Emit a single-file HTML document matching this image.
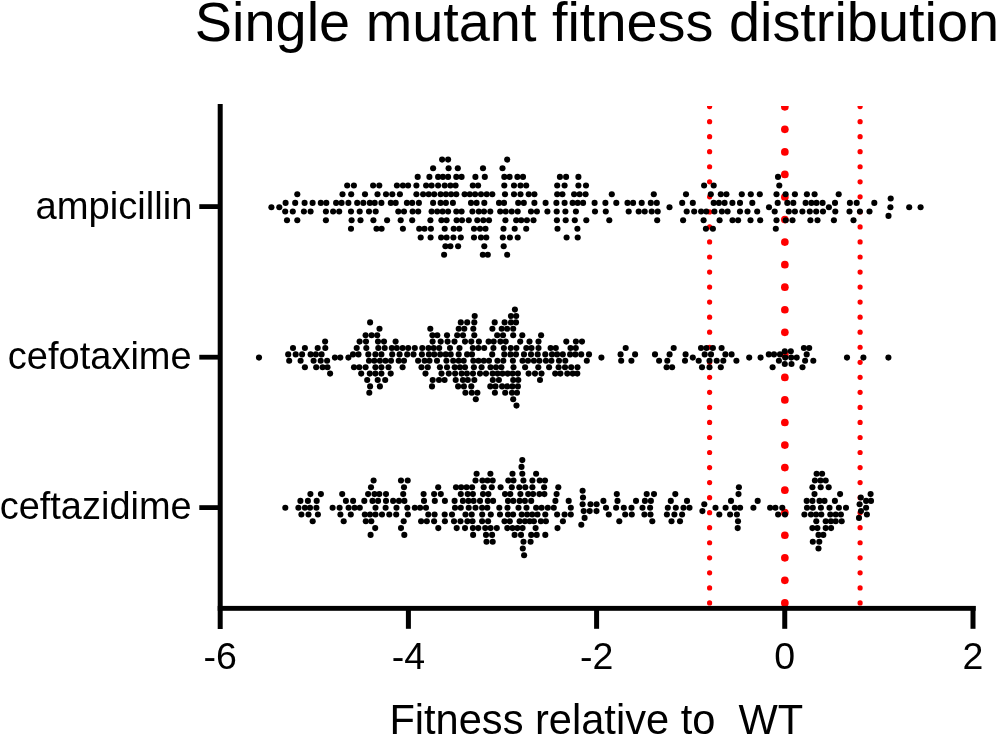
<!DOCTYPE html><html><head><meta charset="utf-8"><style>html,body{margin:0;padding:0;background:#fff;}svg{display:block;}text{font-family:"Liberation Sans",sans-serif;fill:#000;}</style></head><body>
<svg width="997" height="735" viewBox="0 0 997 735">
<rect width="997" height="735" fill="#fff"/>
<defs><clipPath id="c"><rect x="0" y="106" width="997" height="600"/></clipPath></defs>
<g fill="#f00" clip-path="url(#c)"><circle cx="709.6" cy="106.60" r="2.6"/><circle cx="709.6" cy="121.64" r="2.6"/><circle cx="709.6" cy="136.68" r="2.6"/><circle cx="709.6" cy="151.72" r="2.6"/><circle cx="709.6" cy="166.76" r="2.6"/><circle cx="709.6" cy="181.80" r="2.6"/><circle cx="709.6" cy="196.84" r="2.6"/><circle cx="709.6" cy="211.88" r="2.6"/><circle cx="709.6" cy="226.92" r="2.6"/><circle cx="709.6" cy="241.96" r="2.6"/><circle cx="709.6" cy="257.00" r="2.6"/><circle cx="709.6" cy="272.04" r="2.6"/><circle cx="709.6" cy="287.08" r="2.6"/><circle cx="709.6" cy="302.12" r="2.6"/><circle cx="709.6" cy="317.16" r="2.6"/><circle cx="709.6" cy="332.20" r="2.6"/><circle cx="709.6" cy="347.24" r="2.6"/><circle cx="709.6" cy="362.28" r="2.6"/><circle cx="709.6" cy="377.32" r="2.6"/><circle cx="709.6" cy="392.36" r="2.6"/><circle cx="709.6" cy="407.40" r="2.6"/><circle cx="709.6" cy="422.44" r="2.6"/><circle cx="709.6" cy="437.48" r="2.6"/><circle cx="709.6" cy="452.52" r="2.6"/><circle cx="709.6" cy="467.56" r="2.6"/><circle cx="709.6" cy="482.60" r="2.6"/><circle cx="709.6" cy="497.64" r="2.6"/><circle cx="709.6" cy="512.68" r="2.6"/><circle cx="709.6" cy="527.72" r="2.6"/><circle cx="709.6" cy="542.76" r="2.6"/><circle cx="709.6" cy="557.80" r="2.6"/><circle cx="709.6" cy="572.84" r="2.6"/><circle cx="709.6" cy="587.88" r="2.6"/><circle cx="709.6" cy="602.92" r="2.6"/><circle cx="860.1" cy="106.60" r="2.6"/><circle cx="860.1" cy="121.64" r="2.6"/><circle cx="860.1" cy="136.68" r="2.6"/><circle cx="860.1" cy="151.72" r="2.6"/><circle cx="860.1" cy="166.76" r="2.6"/><circle cx="860.1" cy="181.80" r="2.6"/><circle cx="860.1" cy="196.84" r="2.6"/><circle cx="860.1" cy="211.88" r="2.6"/><circle cx="860.1" cy="226.92" r="2.6"/><circle cx="860.1" cy="241.96" r="2.6"/><circle cx="860.1" cy="257.00" r="2.6"/><circle cx="860.1" cy="272.04" r="2.6"/><circle cx="860.1" cy="287.08" r="2.6"/><circle cx="860.1" cy="302.12" r="2.6"/><circle cx="860.1" cy="317.16" r="2.6"/><circle cx="860.1" cy="332.20" r="2.6"/><circle cx="860.1" cy="347.24" r="2.6"/><circle cx="860.1" cy="362.28" r="2.6"/><circle cx="860.1" cy="377.32" r="2.6"/><circle cx="860.1" cy="392.36" r="2.6"/><circle cx="860.1" cy="407.40" r="2.6"/><circle cx="860.1" cy="422.44" r="2.6"/><circle cx="860.1" cy="437.48" r="2.6"/><circle cx="860.1" cy="452.52" r="2.6"/><circle cx="860.1" cy="467.56" r="2.6"/><circle cx="860.1" cy="482.60" r="2.6"/><circle cx="860.1" cy="497.64" r="2.6"/><circle cx="860.1" cy="512.68" r="2.6"/><circle cx="860.1" cy="527.72" r="2.6"/><circle cx="860.1" cy="542.76" r="2.6"/><circle cx="860.1" cy="557.80" r="2.6"/><circle cx="860.1" cy="572.84" r="2.6"/><circle cx="860.1" cy="587.88" r="2.6"/><circle cx="860.1" cy="602.92" r="2.6"/><circle cx="784.85" cy="106.80" r="3.85"/><circle cx="784.85" cy="129.35" r="3.85"/><circle cx="784.85" cy="151.90" r="3.85"/><circle cx="784.85" cy="174.45" r="3.85"/><circle cx="784.85" cy="197.00" r="3.85"/><circle cx="784.85" cy="219.55" r="3.85"/><circle cx="784.85" cy="242.10" r="3.85"/><circle cx="784.85" cy="264.65" r="3.85"/><circle cx="784.85" cy="287.20" r="3.85"/><circle cx="784.85" cy="309.75" r="3.85"/><circle cx="784.85" cy="332.30" r="3.85"/><circle cx="784.85" cy="354.85" r="3.85"/><circle cx="784.85" cy="377.40" r="3.85"/><circle cx="784.85" cy="399.95" r="3.85"/><circle cx="784.85" cy="422.50" r="3.85"/><circle cx="784.85" cy="445.05" r="3.85"/><circle cx="784.85" cy="467.60" r="3.85"/><circle cx="784.85" cy="490.15" r="3.85"/><circle cx="784.85" cy="512.70" r="3.85"/><circle cx="784.85" cy="535.25" r="3.85"/><circle cx="784.85" cy="557.80" r="3.85"/><circle cx="784.85" cy="580.35" r="3.85"/><circle cx="784.85" cy="602.90" r="3.85"/></g>
<g fill="#000"><rect x="217.7" y="104" width="5" height="525"/><rect x="217.7" y="605.9" width="758" height="4.9"/><rect x="405.90" y="606" width="5" height="22.8"/><rect x="594.10" y="606" width="5" height="22.8"/><rect x="782.25" y="606" width="5" height="22.8"/><rect x="970.50" y="606" width="5" height="22.8"/><rect x="199.3" y="204.20" width="20" height="4.8"/><rect x="199.3" y="354.80" width="20" height="4.8"/><rect x="199.3" y="505.20" width="20" height="4.8"/></g>
<g fill="#000"><circle cx="442.1" cy="159.6" r="3.05"/><circle cx="448.1" cy="159.6" r="3.05"/><circle cx="507.2" cy="159.6" r="3.05"/><circle cx="433.1" cy="168.2" r="3.05"/><circle cx="448.6" cy="168.2" r="3.05"/><circle cx="457.8" cy="168.2" r="3.05"/><circle cx="483.0" cy="168.2" r="3.05"/><circle cx="502.5" cy="168.2" r="3.05"/><circle cx="417.7" cy="176.9" r="3.05"/><circle cx="429.4" cy="176.9" r="3.05"/><circle cx="438.1" cy="176.9" r="3.05"/><circle cx="442.9" cy="176.9" r="3.05"/><circle cx="448.1" cy="176.9" r="3.05"/><circle cx="456.3" cy="176.9" r="3.05"/><circle cx="461.6" cy="176.9" r="3.05"/><circle cx="475.4" cy="176.9" r="3.05"/><circle cx="484.8" cy="176.9" r="3.05"/><circle cx="504.3" cy="176.9" r="3.05"/><circle cx="509.6" cy="176.9" r="3.05"/><circle cx="517.4" cy="176.9" r="3.05"/><circle cx="523.0" cy="176.9" r="3.05"/><circle cx="559.9" cy="176.9" r="3.05"/><circle cx="566.1" cy="176.9" r="3.05"/><circle cx="578.4" cy="176.9" r="3.05"/><circle cx="778.0" cy="176.9" r="3.05"/><circle cx="347.2" cy="185.5" r="3.05"/><circle cx="353.9" cy="185.5" r="3.05"/><circle cx="373.1" cy="185.5" r="3.05"/><circle cx="379.3" cy="185.5" r="3.05"/><circle cx="396.9" cy="185.5" r="3.05"/><circle cx="402.9" cy="185.5" r="3.05"/><circle cx="408.1" cy="185.5" r="3.05"/><circle cx="416.4" cy="185.5" r="3.05"/><circle cx="426.1" cy="185.5" r="3.05"/><circle cx="431.6" cy="185.5" r="3.05"/><circle cx="438.1" cy="185.5" r="3.05"/><circle cx="444.7" cy="185.5" r="3.05"/><circle cx="450.4" cy="185.5" r="3.05"/><circle cx="455.6" cy="185.5" r="3.05"/><circle cx="472.8" cy="185.5" r="3.05"/><circle cx="478.1" cy="185.5" r="3.05"/><circle cx="504.3" cy="185.5" r="3.05"/><circle cx="514.0" cy="185.5" r="3.05"/><circle cx="520.5" cy="185.5" r="3.05"/><circle cx="526.2" cy="185.5" r="3.05"/><circle cx="557.2" cy="185.5" r="3.05"/><circle cx="564.6" cy="185.5" r="3.05"/><circle cx="578.4" cy="185.5" r="3.05"/><circle cx="586.0" cy="185.5" r="3.05"/><circle cx="704.1" cy="185.5" r="3.05"/><circle cx="713.7" cy="185.5" r="3.05"/><circle cx="779.3" cy="185.5" r="3.05"/><circle cx="297.3" cy="194.2" r="3.05"/><circle cx="342.5" cy="194.2" r="3.05"/><circle cx="351.2" cy="194.2" r="3.05"/><circle cx="365.0" cy="194.2" r="3.05"/><circle cx="377.5" cy="194.2" r="3.05"/><circle cx="386.0" cy="194.2" r="3.05"/><circle cx="392.3" cy="194.2" r="3.05"/><circle cx="399.9" cy="194.2" r="3.05"/><circle cx="416.4" cy="194.2" r="3.05"/><circle cx="423.1" cy="194.2" r="3.05"/><circle cx="428.7" cy="194.2" r="3.05"/><circle cx="434.2" cy="194.2" r="3.05"/><circle cx="440.6" cy="194.2" r="3.05"/><circle cx="445.9" cy="194.2" r="3.05"/><circle cx="451.1" cy="194.2" r="3.05"/><circle cx="456.3" cy="194.2" r="3.05"/><circle cx="464.6" cy="194.2" r="3.05"/><circle cx="469.8" cy="194.2" r="3.05"/><circle cx="475.1" cy="194.2" r="3.05"/><circle cx="481.0" cy="194.2" r="3.05"/><circle cx="486.7" cy="194.2" r="3.05"/><circle cx="492.3" cy="194.2" r="3.05"/><circle cx="505.0" cy="194.2" r="3.05"/><circle cx="514.0" cy="194.2" r="3.05"/><circle cx="520.5" cy="194.2" r="3.05"/><circle cx="528.7" cy="194.2" r="3.05"/><circle cx="534.4" cy="194.2" r="3.05"/><circle cx="557.2" cy="194.2" r="3.05"/><circle cx="562.4" cy="194.2" r="3.05"/><circle cx="574.1" cy="194.2" r="3.05"/><circle cx="579.6" cy="194.2" r="3.05"/><circle cx="585.6" cy="194.2" r="3.05"/><circle cx="611.8" cy="194.2" r="3.05"/><circle cx="653.8" cy="194.2" r="3.05"/><circle cx="686.0" cy="194.2" r="3.05"/><circle cx="710.8" cy="194.2" r="3.05"/><circle cx="720.8" cy="194.2" r="3.05"/><circle cx="726.4" cy="194.2" r="3.05"/><circle cx="741.8" cy="194.2" r="3.05"/><circle cx="750.8" cy="194.2" r="3.05"/><circle cx="759.8" cy="194.2" r="3.05"/><circle cx="776.5" cy="194.2" r="3.05"/><circle cx="785.6" cy="194.2" r="3.05"/><circle cx="794.9" cy="194.2" r="3.05"/><circle cx="806.9" cy="194.2" r="3.05"/><circle cx="814.6" cy="194.2" r="3.05"/><circle cx="838.7" cy="194.2" r="3.05"/><circle cx="890.7" cy="198.5" r="3.05"/><circle cx="285.6" cy="202.9" r="3.05"/><circle cx="295.2" cy="202.9" r="3.05"/><circle cx="304.6" cy="202.9" r="3.05"/><circle cx="312.6" cy="202.9" r="3.05"/><circle cx="320.8" cy="202.9" r="3.05"/><circle cx="326.3" cy="202.9" r="3.05"/><circle cx="336.1" cy="202.9" r="3.05"/><circle cx="341.6" cy="202.9" r="3.05"/><circle cx="348.4" cy="202.9" r="3.05"/><circle cx="357.2" cy="202.9" r="3.05"/><circle cx="363.3" cy="202.9" r="3.05"/><circle cx="369.8" cy="202.9" r="3.05"/><circle cx="374.7" cy="202.9" r="3.05"/><circle cx="381.4" cy="202.9" r="3.05"/><circle cx="390.8" cy="202.9" r="3.05"/><circle cx="395.7" cy="202.9" r="3.05"/><circle cx="406.9" cy="202.9" r="3.05"/><circle cx="412.2" cy="202.9" r="3.05"/><circle cx="418.9" cy="202.9" r="3.05"/><circle cx="433.1" cy="202.9" r="3.05"/><circle cx="440.6" cy="202.9" r="3.05"/><circle cx="445.9" cy="202.9" r="3.05"/><circle cx="452.9" cy="202.9" r="3.05"/><circle cx="471.0" cy="202.9" r="3.05"/><circle cx="476.6" cy="202.9" r="3.05"/><circle cx="484.3" cy="202.9" r="3.05"/><circle cx="499.0" cy="202.9" r="3.05"/><circle cx="504.0" cy="202.9" r="3.05"/><circle cx="518.2" cy="202.9" r="3.05"/><circle cx="523.8" cy="202.9" r="3.05"/><circle cx="534.4" cy="202.9" r="3.05"/><circle cx="545.6" cy="202.9" r="3.05"/><circle cx="556.4" cy="202.9" r="3.05"/><circle cx="564.6" cy="202.9" r="3.05"/><circle cx="572.6" cy="202.9" r="3.05"/><circle cx="577.7" cy="202.9" r="3.05"/><circle cx="583.1" cy="202.9" r="3.05"/><circle cx="594.6" cy="202.9" r="3.05"/><circle cx="605.4" cy="202.9" r="3.05"/><circle cx="616.3" cy="202.9" r="3.05"/><circle cx="627.5" cy="202.9" r="3.05"/><circle cx="633.1" cy="202.9" r="3.05"/><circle cx="641.7" cy="202.9" r="3.05"/><circle cx="650.8" cy="202.9" r="3.05"/><circle cx="656.8" cy="202.9" r="3.05"/><circle cx="682.2" cy="202.9" r="3.05"/><circle cx="692.8" cy="202.9" r="3.05"/><circle cx="713.7" cy="202.9" r="3.05"/><circle cx="718.9" cy="202.9" r="3.05"/><circle cx="724.6" cy="202.9" r="3.05"/><circle cx="732.4" cy="202.9" r="3.05"/><circle cx="740.0" cy="202.9" r="3.05"/><circle cx="752.3" cy="202.9" r="3.05"/><circle cx="777.7" cy="202.9" r="3.05"/><circle cx="787.3" cy="202.9" r="3.05"/><circle cx="793.3" cy="202.9" r="3.05"/><circle cx="805.6" cy="202.9" r="3.05"/><circle cx="811.4" cy="202.9" r="3.05"/><circle cx="816.5" cy="202.9" r="3.05"/><circle cx="822.6" cy="202.9" r="3.05"/><circle cx="835.0" cy="202.9" r="3.05"/><circle cx="849.9" cy="202.9" r="3.05"/><circle cx="856.7" cy="202.9" r="3.05"/><circle cx="874.3" cy="202.9" r="3.05"/><circle cx="271.4" cy="207.2" r="3.05"/><circle cx="279.3" cy="207.2" r="3.05"/><circle cx="669.5" cy="207.2" r="3.05"/><circle cx="769.0" cy="207.2" r="3.05"/><circle cx="828.9" cy="207.2" r="3.05"/><circle cx="890.4" cy="207.2" r="3.05"/><circle cx="909.2" cy="207.2" r="3.05"/><circle cx="920.6" cy="207.2" r="3.05"/><circle cx="285.2" cy="211.5" r="3.05"/><circle cx="292.8" cy="211.5" r="3.05"/><circle cx="303.9" cy="211.5" r="3.05"/><circle cx="310.6" cy="211.5" r="3.05"/><circle cx="325.9" cy="211.5" r="3.05"/><circle cx="333.1" cy="211.5" r="3.05"/><circle cx="339.2" cy="211.5" r="3.05"/><circle cx="351.0" cy="211.5" r="3.05"/><circle cx="359.7" cy="211.5" r="3.05"/><circle cx="369.0" cy="211.5" r="3.05"/><circle cx="375.7" cy="211.5" r="3.05"/><circle cx="398.3" cy="211.5" r="3.05"/><circle cx="404.0" cy="211.5" r="3.05"/><circle cx="412.6" cy="211.5" r="3.05"/><circle cx="418.2" cy="211.5" r="3.05"/><circle cx="431.6" cy="211.5" r="3.05"/><circle cx="437.2" cy="211.5" r="3.05"/><circle cx="442.6" cy="211.5" r="3.05"/><circle cx="448.1" cy="211.5" r="3.05"/><circle cx="456.3" cy="211.5" r="3.05"/><circle cx="461.6" cy="211.5" r="3.05"/><circle cx="472.4" cy="211.5" r="3.05"/><circle cx="478.8" cy="211.5" r="3.05"/><circle cx="484.0" cy="211.5" r="3.05"/><circle cx="490.3" cy="211.5" r="3.05"/><circle cx="500.2" cy="211.5" r="3.05"/><circle cx="505.7" cy="211.5" r="3.05"/><circle cx="511.7" cy="211.5" r="3.05"/><circle cx="517.7" cy="211.5" r="3.05"/><circle cx="531.0" cy="211.5" r="3.05"/><circle cx="536.9" cy="211.5" r="3.05"/><circle cx="547.4" cy="211.5" r="3.05"/><circle cx="556.7" cy="211.5" r="3.05"/><circle cx="565.4" cy="211.5" r="3.05"/><circle cx="575.9" cy="211.5" r="3.05"/><circle cx="595.0" cy="211.5" r="3.05"/><circle cx="605.8" cy="211.5" r="3.05"/><circle cx="628.7" cy="211.5" r="3.05"/><circle cx="638.7" cy="211.5" r="3.05"/><circle cx="644.7" cy="211.5" r="3.05"/><circle cx="651.7" cy="211.5" r="3.05"/><circle cx="657.7" cy="211.5" r="3.05"/><circle cx="686.7" cy="211.5" r="3.05"/><circle cx="694.2" cy="211.5" r="3.05"/><circle cx="701.1" cy="211.5" r="3.05"/><circle cx="706.3" cy="211.5" r="3.05"/><circle cx="714.4" cy="211.5" r="3.05"/><circle cx="721.9" cy="211.5" r="3.05"/><circle cx="727.6" cy="211.5" r="3.05"/><circle cx="740.0" cy="211.5" r="3.05"/><circle cx="747.5" cy="211.5" r="3.05"/><circle cx="757.2" cy="211.5" r="3.05"/><circle cx="774.7" cy="211.5" r="3.05"/><circle cx="788.8" cy="211.5" r="3.05"/><circle cx="794.9" cy="211.5" r="3.05"/><circle cx="802.4" cy="211.5" r="3.05"/><circle cx="809.8" cy="211.5" r="3.05"/><circle cx="816.2" cy="211.5" r="3.05"/><circle cx="823.0" cy="211.5" r="3.05"/><circle cx="835.3" cy="211.5" r="3.05"/><circle cx="849.5" cy="211.5" r="3.05"/><circle cx="859.9" cy="211.5" r="3.05"/><circle cx="869.5" cy="211.5" r="3.05"/><circle cx="888.5" cy="215.9" r="3.05"/><circle cx="287.0" cy="220.2" r="3.05"/><circle cx="297.3" cy="220.2" r="3.05"/><circle cx="325.9" cy="220.2" r="3.05"/><circle cx="351.6" cy="220.2" r="3.05"/><circle cx="360.5" cy="220.2" r="3.05"/><circle cx="373.4" cy="220.2" r="3.05"/><circle cx="387.1" cy="220.2" r="3.05"/><circle cx="400.7" cy="220.2" r="3.05"/><circle cx="412.2" cy="220.2" r="3.05"/><circle cx="430.4" cy="220.2" r="3.05"/><circle cx="441.4" cy="220.2" r="3.05"/><circle cx="446.6" cy="220.2" r="3.05"/><circle cx="456.6" cy="220.2" r="3.05"/><circle cx="462.0" cy="220.2" r="3.05"/><circle cx="468.8" cy="220.2" r="3.05"/><circle cx="477.3" cy="220.2" r="3.05"/><circle cx="483.3" cy="220.2" r="3.05"/><circle cx="489.0" cy="220.2" r="3.05"/><circle cx="505.4" cy="220.2" r="3.05"/><circle cx="516.2" cy="220.2" r="3.05"/><circle cx="521.2" cy="220.2" r="3.05"/><circle cx="526.9" cy="220.2" r="3.05"/><circle cx="533.5" cy="220.2" r="3.05"/><circle cx="556.9" cy="220.2" r="3.05"/><circle cx="565.7" cy="220.2" r="3.05"/><circle cx="574.8" cy="220.2" r="3.05"/><circle cx="586.3" cy="220.2" r="3.05"/><circle cx="609.3" cy="220.2" r="3.05"/><circle cx="657.2" cy="220.2" r="3.05"/><circle cx="683.1" cy="220.2" r="3.05"/><circle cx="703.6" cy="220.2" r="3.05"/><circle cx="719.6" cy="220.2" r="3.05"/><circle cx="732.5" cy="220.2" r="3.05"/><circle cx="738.1" cy="220.2" r="3.05"/><circle cx="750.5" cy="220.2" r="3.05"/><circle cx="760.2" cy="220.2" r="3.05"/><circle cx="776.5" cy="220.2" r="3.05"/><circle cx="785.7" cy="220.2" r="3.05"/><circle cx="792.5" cy="220.2" r="3.05"/><circle cx="810.4" cy="220.2" r="3.05"/><circle cx="817.5" cy="220.2" r="3.05"/><circle cx="833.9" cy="220.2" r="3.05"/><circle cx="853.5" cy="220.2" r="3.05"/><circle cx="351.0" cy="228.8" r="3.05"/><circle cx="376.5" cy="228.8" r="3.05"/><circle cx="381.6" cy="228.8" r="3.05"/><circle cx="402.9" cy="228.8" r="3.05"/><circle cx="419.2" cy="228.8" r="3.05"/><circle cx="424.5" cy="228.8" r="3.05"/><circle cx="430.9" cy="228.8" r="3.05"/><circle cx="444.7" cy="228.8" r="3.05"/><circle cx="453.7" cy="228.8" r="3.05"/><circle cx="459.3" cy="228.8" r="3.05"/><circle cx="474.0" cy="228.8" r="3.05"/><circle cx="480.0" cy="228.8" r="3.05"/><circle cx="485.5" cy="228.8" r="3.05"/><circle cx="503.5" cy="228.8" r="3.05"/><circle cx="514.7" cy="228.8" r="3.05"/><circle cx="526.2" cy="228.8" r="3.05"/><circle cx="557.5" cy="228.8" r="3.05"/><circle cx="577.4" cy="228.8" r="3.05"/><circle cx="705.9" cy="228.8" r="3.05"/><circle cx="712.9" cy="228.8" r="3.05"/><circle cx="775.8" cy="228.8" r="3.05"/><circle cx="420.7" cy="237.5" r="3.05"/><circle cx="430.6" cy="237.5" r="3.05"/><circle cx="441.1" cy="237.5" r="3.05"/><circle cx="446.6" cy="237.5" r="3.05"/><circle cx="453.4" cy="237.5" r="3.05"/><circle cx="460.8" cy="237.5" r="3.05"/><circle cx="474.0" cy="237.5" r="3.05"/><circle cx="481.0" cy="237.5" r="3.05"/><circle cx="486.3" cy="237.5" r="3.05"/><circle cx="502.8" cy="237.5" r="3.05"/><circle cx="509.9" cy="237.5" r="3.05"/><circle cx="517.7" cy="237.5" r="3.05"/><circle cx="566.6" cy="237.5" r="3.05"/><circle cx="577.7" cy="237.5" r="3.05"/><circle cx="445.4" cy="246.2" r="3.05"/><circle cx="450.4" cy="246.2" r="3.05"/><circle cx="458.1" cy="246.2" r="3.05"/><circle cx="484.3" cy="246.2" r="3.05"/><circle cx="503.7" cy="246.2" r="3.05"/><circle cx="444.1" cy="254.8" r="3.05"/><circle cx="482.8" cy="254.8" r="3.05"/><circle cx="487.8" cy="254.8" r="3.05"/><circle cx="507.2" cy="254.8" r="3.05"/><circle cx="514.9" cy="309.6" r="3.05"/><circle cx="474.7" cy="316.0" r="3.05"/><circle cx="510.9" cy="316.0" r="3.05"/><circle cx="516.2" cy="316.0" r="3.05"/><circle cx="370.1" cy="322.4" r="3.05"/><circle cx="460.8" cy="322.4" r="3.05"/><circle cx="467.2" cy="322.4" r="3.05"/><circle cx="474.3" cy="322.4" r="3.05"/><circle cx="494.7" cy="322.4" r="3.05"/><circle cx="504.6" cy="322.4" r="3.05"/><circle cx="510.9" cy="322.4" r="3.05"/><circle cx="516.0" cy="322.4" r="3.05"/><circle cx="379.5" cy="328.8" r="3.05"/><circle cx="430.3" cy="328.8" r="3.05"/><circle cx="458.7" cy="328.8" r="3.05"/><circle cx="464.3" cy="328.8" r="3.05"/><circle cx="473.3" cy="328.8" r="3.05"/><circle cx="492.4" cy="328.8" r="3.05"/><circle cx="501.7" cy="328.8" r="3.05"/><circle cx="507.1" cy="328.8" r="3.05"/><circle cx="513.2" cy="328.8" r="3.05"/><circle cx="365.6" cy="335.2" r="3.05"/><circle cx="371.6" cy="335.2" r="3.05"/><circle cx="377.2" cy="335.2" r="3.05"/><circle cx="432.4" cy="335.2" r="3.05"/><circle cx="437.3" cy="335.2" r="3.05"/><circle cx="447.0" cy="335.2" r="3.05"/><circle cx="457.2" cy="335.2" r="3.05"/><circle cx="463.0" cy="335.2" r="3.05"/><circle cx="474.3" cy="335.2" r="3.05"/><circle cx="497.2" cy="335.2" r="3.05"/><circle cx="503.0" cy="335.2" r="3.05"/><circle cx="513.2" cy="335.2" r="3.05"/><circle cx="522.3" cy="335.2" r="3.05"/><circle cx="541.1" cy="335.2" r="3.05"/><circle cx="325.1" cy="341.6" r="3.05"/><circle cx="359.6" cy="341.6" r="3.05"/><circle cx="366.0" cy="341.6" r="3.05"/><circle cx="378.0" cy="341.6" r="3.05"/><circle cx="384.0" cy="341.6" r="3.05"/><circle cx="395.6" cy="341.6" r="3.05"/><circle cx="432.6" cy="341.6" r="3.05"/><circle cx="440.7" cy="341.6" r="3.05"/><circle cx="447.6" cy="341.6" r="3.05"/><circle cx="454.5" cy="341.6" r="3.05"/><circle cx="465.0" cy="341.6" r="3.05"/><circle cx="471.3" cy="341.6" r="3.05"/><circle cx="478.9" cy="341.6" r="3.05"/><circle cx="488.6" cy="341.6" r="3.05"/><circle cx="493.7" cy="341.6" r="3.05"/><circle cx="500.4" cy="341.6" r="3.05"/><circle cx="505.7" cy="341.6" r="3.05"/><circle cx="520.2" cy="341.6" r="3.05"/><circle cx="529.5" cy="341.6" r="3.05"/><circle cx="538.5" cy="341.6" r="3.05"/><circle cx="566.3" cy="341.6" r="3.05"/><circle cx="575.9" cy="341.6" r="3.05"/><circle cx="582.0" cy="341.6" r="3.05"/><circle cx="293.0" cy="348.0" r="3.05"/><circle cx="304.9" cy="348.0" r="3.05"/><circle cx="317.7" cy="348.0" r="3.05"/><circle cx="325.3" cy="348.0" r="3.05"/><circle cx="356.7" cy="348.0" r="3.05"/><circle cx="366.3" cy="348.0" r="3.05"/><circle cx="378.3" cy="348.0" r="3.05"/><circle cx="384.7" cy="348.0" r="3.05"/><circle cx="391.8" cy="348.0" r="3.05"/><circle cx="396.8" cy="348.0" r="3.05"/><circle cx="402.6" cy="348.0" r="3.05"/><circle cx="408.2" cy="348.0" r="3.05"/><circle cx="414.8" cy="348.0" r="3.05"/><circle cx="422.3" cy="348.0" r="3.05"/><circle cx="428.5" cy="348.0" r="3.05"/><circle cx="433.7" cy="348.0" r="3.05"/><circle cx="439.2" cy="348.0" r="3.05"/><circle cx="450.0" cy="348.0" r="3.05"/><circle cx="459.5" cy="348.0" r="3.05"/><circle cx="472.8" cy="348.0" r="3.05"/><circle cx="478.4" cy="348.0" r="3.05"/><circle cx="484.2" cy="348.0" r="3.05"/><circle cx="493.4" cy="348.0" r="3.05"/><circle cx="503.9" cy="348.0" r="3.05"/><circle cx="510.7" cy="348.0" r="3.05"/><circle cx="516.4" cy="348.0" r="3.05"/><circle cx="526.3" cy="348.0" r="3.05"/><circle cx="531.5" cy="348.0" r="3.05"/><circle cx="538.5" cy="348.0" r="3.05"/><circle cx="550.6" cy="348.0" r="3.05"/><circle cx="555.8" cy="348.0" r="3.05"/><circle cx="570.5" cy="348.0" r="3.05"/><circle cx="575.8" cy="348.0" r="3.05"/><circle cx="625.7" cy="348.0" r="3.05"/><circle cx="673.7" cy="348.0" r="3.05"/><circle cx="701.0" cy="348.0" r="3.05"/><circle cx="706.5" cy="348.0" r="3.05"/><circle cx="712.9" cy="348.0" r="3.05"/><circle cx="721.6" cy="348.0" r="3.05"/><circle cx="803.9" cy="348.0" r="3.05"/><circle cx="809.2" cy="348.0" r="3.05"/><circle cx="784.8" cy="351.2" r="3.05"/><circle cx="790.8" cy="351.2" r="3.05"/><circle cx="288.2" cy="354.4" r="3.05"/><circle cx="295.7" cy="354.4" r="3.05"/><circle cx="302.1" cy="354.4" r="3.05"/><circle cx="310.6" cy="354.4" r="3.05"/><circle cx="315.9" cy="354.4" r="3.05"/><circle cx="321.6" cy="354.4" r="3.05"/><circle cx="353.0" cy="354.4" r="3.05"/><circle cx="358.5" cy="354.4" r="3.05"/><circle cx="368.3" cy="354.4" r="3.05"/><circle cx="375.4" cy="354.4" r="3.05"/><circle cx="381.4" cy="354.4" r="3.05"/><circle cx="392.2" cy="354.4" r="3.05"/><circle cx="399.6" cy="354.4" r="3.05"/><circle cx="407.2" cy="354.4" r="3.05"/><circle cx="413.5" cy="354.4" r="3.05"/><circle cx="421.9" cy="354.4" r="3.05"/><circle cx="428.9" cy="354.4" r="3.05"/><circle cx="434.2" cy="354.4" r="3.05"/><circle cx="440.2" cy="354.4" r="3.05"/><circle cx="445.7" cy="354.4" r="3.05"/><circle cx="450.7" cy="354.4" r="3.05"/><circle cx="458.7" cy="354.4" r="3.05"/><circle cx="467.1" cy="354.4" r="3.05"/><circle cx="472.0" cy="354.4" r="3.05"/><circle cx="492.2" cy="354.4" r="3.05"/><circle cx="504.3" cy="354.4" r="3.05"/><circle cx="510.5" cy="354.4" r="3.05"/><circle cx="516.0" cy="354.4" r="3.05"/><circle cx="524.0" cy="354.4" r="3.05"/><circle cx="531.0" cy="354.4" r="3.05"/><circle cx="537.7" cy="354.4" r="3.05"/><circle cx="545.3" cy="354.4" r="3.05"/><circle cx="552.0" cy="354.4" r="3.05"/><circle cx="557.1" cy="354.4" r="3.05"/><circle cx="562.8" cy="354.4" r="3.05"/><circle cx="570.1" cy="354.4" r="3.05"/><circle cx="575.4" cy="354.4" r="3.05"/><circle cx="581.2" cy="354.4" r="3.05"/><circle cx="589.0" cy="354.4" r="3.05"/><circle cx="620.6" cy="354.4" r="3.05"/><circle cx="635.1" cy="354.4" r="3.05"/><circle cx="655.0" cy="354.4" r="3.05"/><circle cx="669.6" cy="354.4" r="3.05"/><circle cx="685.6" cy="354.4" r="3.05"/><circle cx="704.7" cy="354.4" r="3.05"/><circle cx="711.0" cy="354.4" r="3.05"/><circle cx="725.4" cy="354.4" r="3.05"/><circle cx="731.6" cy="354.4" r="3.05"/><circle cx="768.8" cy="354.4" r="3.05"/><circle cx="774.0" cy="354.4" r="3.05"/><circle cx="780.0" cy="354.4" r="3.05"/><circle cx="806.7" cy="354.4" r="3.05"/><circle cx="259.0" cy="357.6" r="3.05"/><circle cx="334.9" cy="357.6" r="3.05"/><circle cx="340.3" cy="357.6" r="3.05"/><circle cx="348.4" cy="357.6" r="3.05"/><circle cx="601.4" cy="357.6" r="3.05"/><circle cx="692.8" cy="357.6" r="3.05"/><circle cx="749.2" cy="357.6" r="3.05"/><circle cx="760.6" cy="357.6" r="3.05"/><circle cx="785.2" cy="357.6" r="3.05"/><circle cx="791.2" cy="357.6" r="3.05"/><circle cx="796.7" cy="357.6" r="3.05"/><circle cx="847.0" cy="357.6" r="3.05"/><circle cx="863.4" cy="357.6" r="3.05"/><circle cx="888.4" cy="357.6" r="3.05"/><circle cx="289.2" cy="360.8" r="3.05"/><circle cx="300.6" cy="360.8" r="3.05"/><circle cx="313.6" cy="360.8" r="3.05"/><circle cx="320.7" cy="360.8" r="3.05"/><circle cx="327.1" cy="360.8" r="3.05"/><circle cx="369.0" cy="360.8" r="3.05"/><circle cx="374.3" cy="360.8" r="3.05"/><circle cx="379.9" cy="360.8" r="3.05"/><circle cx="385.5" cy="360.8" r="3.05"/><circle cx="391.0" cy="360.8" r="3.05"/><circle cx="398.7" cy="360.8" r="3.05"/><circle cx="404.0" cy="360.8" r="3.05"/><circle cx="418.1" cy="360.8" r="3.05"/><circle cx="424.6" cy="360.8" r="3.05"/><circle cx="429.5" cy="360.8" r="3.05"/><circle cx="437.0" cy="360.8" r="3.05"/><circle cx="446.4" cy="360.8" r="3.05"/><circle cx="453.2" cy="360.8" r="3.05"/><circle cx="458.7" cy="360.8" r="3.05"/><circle cx="463.7" cy="360.8" r="3.05"/><circle cx="473.3" cy="360.8" r="3.05"/><circle cx="478.5" cy="360.8" r="3.05"/><circle cx="483.8" cy="360.8" r="3.05"/><circle cx="489.0" cy="360.8" r="3.05"/><circle cx="497.4" cy="360.8" r="3.05"/><circle cx="503.3" cy="360.8" r="3.05"/><circle cx="512.9" cy="360.8" r="3.05"/><circle cx="522.5" cy="360.8" r="3.05"/><circle cx="528.0" cy="360.8" r="3.05"/><circle cx="533.9" cy="360.8" r="3.05"/><circle cx="539.4" cy="360.8" r="3.05"/><circle cx="545.9" cy="360.8" r="3.05"/><circle cx="551.4" cy="360.8" r="3.05"/><circle cx="559.0" cy="360.8" r="3.05"/><circle cx="565.3" cy="360.8" r="3.05"/><circle cx="586.8" cy="360.8" r="3.05"/><circle cx="621.2" cy="360.8" r="3.05"/><circle cx="631.4" cy="360.8" r="3.05"/><circle cx="659.1" cy="360.8" r="3.05"/><circle cx="667.3" cy="360.8" r="3.05"/><circle cx="685.0" cy="360.8" r="3.05"/><circle cx="698.7" cy="360.8" r="3.05"/><circle cx="709.5" cy="360.8" r="3.05"/><circle cx="716.7" cy="360.8" r="3.05"/><circle cx="723.3" cy="360.8" r="3.05"/><circle cx="736.4" cy="360.8" r="3.05"/><circle cx="778.9" cy="360.8" r="3.05"/><circle cx="805.1" cy="360.8" r="3.05"/><circle cx="813.3" cy="360.8" r="3.05"/><circle cx="784.8" cy="364.0" r="3.05"/><circle cx="791.5" cy="364.0" r="3.05"/><circle cx="304.9" cy="367.2" r="3.05"/><circle cx="316.2" cy="367.2" r="3.05"/><circle cx="322.6" cy="367.2" r="3.05"/><circle cx="327.5" cy="367.2" r="3.05"/><circle cx="354.0" cy="367.2" r="3.05"/><circle cx="359.3" cy="367.2" r="3.05"/><circle cx="365.6" cy="367.2" r="3.05"/><circle cx="375.4" cy="367.2" r="3.05"/><circle cx="381.4" cy="367.2" r="3.05"/><circle cx="388.5" cy="367.2" r="3.05"/><circle cx="402.6" cy="367.2" r="3.05"/><circle cx="421.5" cy="367.2" r="3.05"/><circle cx="427.8" cy="367.2" r="3.05"/><circle cx="439.9" cy="367.2" r="3.05"/><circle cx="447.0" cy="367.2" r="3.05"/><circle cx="454.7" cy="367.2" r="3.05"/><circle cx="459.9" cy="367.2" r="3.05"/><circle cx="465.0" cy="367.2" r="3.05"/><circle cx="473.9" cy="367.2" r="3.05"/><circle cx="481.6" cy="367.2" r="3.05"/><circle cx="490.5" cy="367.2" r="3.05"/><circle cx="496.0" cy="367.2" r="3.05"/><circle cx="501.4" cy="367.2" r="3.05"/><circle cx="513.5" cy="367.2" r="3.05"/><circle cx="525.1" cy="367.2" r="3.05"/><circle cx="538.3" cy="367.2" r="3.05"/><circle cx="549.1" cy="367.2" r="3.05"/><circle cx="558.6" cy="367.2" r="3.05"/><circle cx="565.0" cy="367.2" r="3.05"/><circle cx="571.2" cy="367.2" r="3.05"/><circle cx="577.5" cy="367.2" r="3.05"/><circle cx="666.6" cy="367.2" r="3.05"/><circle cx="672.1" cy="367.2" r="3.05"/><circle cx="702.0" cy="367.2" r="3.05"/><circle cx="709.5" cy="367.2" r="3.05"/><circle cx="720.8" cy="367.2" r="3.05"/><circle cx="772.6" cy="367.2" r="3.05"/><circle cx="802.5" cy="367.2" r="3.05"/><circle cx="330.1" cy="373.6" r="3.05"/><circle cx="361.2" cy="373.6" r="3.05"/><circle cx="369.8" cy="373.6" r="3.05"/><circle cx="375.4" cy="373.6" r="3.05"/><circle cx="381.4" cy="373.6" r="3.05"/><circle cx="390.7" cy="373.6" r="3.05"/><circle cx="425.5" cy="373.6" r="3.05"/><circle cx="441.5" cy="373.6" r="3.05"/><circle cx="448.8" cy="373.6" r="3.05"/><circle cx="455.1" cy="373.6" r="3.05"/><circle cx="461.6" cy="373.6" r="3.05"/><circle cx="466.9" cy="373.6" r="3.05"/><circle cx="473.0" cy="373.6" r="3.05"/><circle cx="480.0" cy="373.6" r="3.05"/><circle cx="486.0" cy="373.6" r="3.05"/><circle cx="492.6" cy="373.6" r="3.05"/><circle cx="497.6" cy="373.6" r="3.05"/><circle cx="502.5" cy="373.6" r="3.05"/><circle cx="507.6" cy="373.6" r="3.05"/><circle cx="512.6" cy="373.6" r="3.05"/><circle cx="517.9" cy="373.6" r="3.05"/><circle cx="528.6" cy="373.6" r="3.05"/><circle cx="535.0" cy="373.6" r="3.05"/><circle cx="541.5" cy="373.6" r="3.05"/><circle cx="555.2" cy="373.6" r="3.05"/><circle cx="560.4" cy="373.6" r="3.05"/><circle cx="567.3" cy="373.6" r="3.05"/><circle cx="572.7" cy="373.6" r="3.05"/><circle cx="577.3" cy="373.6" r="3.05"/><circle cx="367.2" cy="380.0" r="3.05"/><circle cx="377.7" cy="380.0" r="3.05"/><circle cx="385.2" cy="380.0" r="3.05"/><circle cx="432.7" cy="380.0" r="3.05"/><circle cx="439.0" cy="380.0" r="3.05"/><circle cx="444.6" cy="380.0" r="3.05"/><circle cx="455.7" cy="380.0" r="3.05"/><circle cx="462.9" cy="380.0" r="3.05"/><circle cx="467.8" cy="380.0" r="3.05"/><circle cx="474.3" cy="380.0" r="3.05"/><circle cx="492.8" cy="380.0" r="3.05"/><circle cx="498.9" cy="380.0" r="3.05"/><circle cx="513.2" cy="380.0" r="3.05"/><circle cx="518.3" cy="380.0" r="3.05"/><circle cx="540.0" cy="380.0" r="3.05"/><circle cx="370.1" cy="386.4" r="3.05"/><circle cx="379.9" cy="386.4" r="3.05"/><circle cx="432.0" cy="386.4" r="3.05"/><circle cx="458.1" cy="386.4" r="3.05"/><circle cx="463.9" cy="386.4" r="3.05"/><circle cx="471.3" cy="386.4" r="3.05"/><circle cx="490.3" cy="386.4" r="3.05"/><circle cx="495.5" cy="386.4" r="3.05"/><circle cx="502.1" cy="386.4" r="3.05"/><circle cx="507.3" cy="386.4" r="3.05"/><circle cx="512.4" cy="386.4" r="3.05"/><circle cx="517.9" cy="386.4" r="3.05"/><circle cx="369.3" cy="392.8" r="3.05"/><circle cx="465.4" cy="392.8" r="3.05"/><circle cx="471.8" cy="392.8" r="3.05"/><circle cx="477.4" cy="392.8" r="3.05"/><circle cx="494.9" cy="392.8" r="3.05"/><circle cx="505.2" cy="392.8" r="3.05"/><circle cx="512.0" cy="392.8" r="3.05"/><circle cx="517.0" cy="392.8" r="3.05"/><circle cx="475.8" cy="399.2" r="3.05"/><circle cx="513.2" cy="399.2" r="3.05"/><circle cx="516.5" cy="405.6" r="3.05"/><circle cx="522.3" cy="460.1" r="3.05"/><circle cx="521.5" cy="466.9" r="3.05"/><circle cx="476.6" cy="473.7" r="3.05"/><circle cx="490.4" cy="473.7" r="3.05"/><circle cx="512.5" cy="473.7" r="3.05"/><circle cx="522.3" cy="473.7" r="3.05"/><circle cx="536.1" cy="473.7" r="3.05"/><circle cx="816.6" cy="473.7" r="3.05"/><circle cx="822.1" cy="473.7" r="3.05"/><circle cx="373.6" cy="480.5" r="3.05"/><circle cx="401.0" cy="480.5" r="3.05"/><circle cx="407.7" cy="480.5" r="3.05"/><circle cx="475.5" cy="480.5" r="3.05"/><circle cx="482.4" cy="480.5" r="3.05"/><circle cx="487.5" cy="480.5" r="3.05"/><circle cx="492.7" cy="480.5" r="3.05"/><circle cx="508.3" cy="480.5" r="3.05"/><circle cx="513.5" cy="480.5" r="3.05"/><circle cx="523.4" cy="480.5" r="3.05"/><circle cx="532.4" cy="480.5" r="3.05"/><circle cx="539.7" cy="480.5" r="3.05"/><circle cx="545.0" cy="480.5" r="3.05"/><circle cx="814.9" cy="480.5" r="3.05"/><circle cx="820.5" cy="480.5" r="3.05"/><circle cx="825.7" cy="480.5" r="3.05"/><circle cx="371.0" cy="487.3" r="3.05"/><circle cx="404.0" cy="487.3" r="3.05"/><circle cx="438.2" cy="487.3" r="3.05"/><circle cx="456.0" cy="487.3" r="3.05"/><circle cx="461.2" cy="487.3" r="3.05"/><circle cx="466.6" cy="487.3" r="3.05"/><circle cx="472.1" cy="487.3" r="3.05"/><circle cx="483.7" cy="487.3" r="3.05"/><circle cx="491.8" cy="487.3" r="3.05"/><circle cx="500.6" cy="487.3" r="3.05"/><circle cx="511.8" cy="487.3" r="3.05"/><circle cx="519.3" cy="487.3" r="3.05"/><circle cx="525.3" cy="487.3" r="3.05"/><circle cx="532.4" cy="487.3" r="3.05"/><circle cx="544.1" cy="487.3" r="3.05"/><circle cx="558.3" cy="487.3" r="3.05"/><circle cx="738.9" cy="487.3" r="3.05"/><circle cx="812.4" cy="487.3" r="3.05"/><circle cx="820.7" cy="487.3" r="3.05"/><circle cx="828.7" cy="487.3" r="3.05"/><circle cx="582.6" cy="490.7" r="3.05"/><circle cx="310.4" cy="494.1" r="3.05"/><circle cx="320.9" cy="494.1" r="3.05"/><circle cx="342.2" cy="494.1" r="3.05"/><circle cx="368.1" cy="494.1" r="3.05"/><circle cx="374.5" cy="494.1" r="3.05"/><circle cx="379.3" cy="494.1" r="3.05"/><circle cx="386.0" cy="494.1" r="3.05"/><circle cx="403.2" cy="494.1" r="3.05"/><circle cx="423.6" cy="494.1" r="3.05"/><circle cx="434.1" cy="494.1" r="3.05"/><circle cx="440.8" cy="494.1" r="3.05"/><circle cx="460.8" cy="494.1" r="3.05"/><circle cx="467.7" cy="494.1" r="3.05"/><circle cx="472.9" cy="494.1" r="3.05"/><circle cx="483.0" cy="494.1" r="3.05"/><circle cx="488.4" cy="494.1" r="3.05"/><circle cx="505.0" cy="494.1" r="3.05"/><circle cx="510.3" cy="494.1" r="3.05"/><circle cx="520.4" cy="494.1" r="3.05"/><circle cx="528.2" cy="494.1" r="3.05"/><circle cx="533.1" cy="494.1" r="3.05"/><circle cx="539.4" cy="494.1" r="3.05"/><circle cx="544.4" cy="494.1" r="3.05"/><circle cx="556.6" cy="494.1" r="3.05"/><circle cx="616.8" cy="494.1" r="3.05"/><circle cx="646.7" cy="494.1" r="3.05"/><circle cx="654.0" cy="494.1" r="3.05"/><circle cx="675.3" cy="494.1" r="3.05"/><circle cx="738.5" cy="494.1" r="3.05"/><circle cx="814.5" cy="494.1" r="3.05"/><circle cx="840.1" cy="494.1" r="3.05"/><circle cx="870.6" cy="494.1" r="3.05"/><circle cx="583.0" cy="497.5" r="3.05"/><circle cx="860.8" cy="497.5" r="3.05"/><circle cx="300.4" cy="500.9" r="3.05"/><circle cx="307.9" cy="500.9" r="3.05"/><circle cx="316.7" cy="500.9" r="3.05"/><circle cx="345.9" cy="500.9" r="3.05"/><circle cx="353.1" cy="500.9" r="3.05"/><circle cx="364.3" cy="500.9" r="3.05"/><circle cx="372.5" cy="500.9" r="3.05"/><circle cx="378.1" cy="500.9" r="3.05"/><circle cx="386.0" cy="500.9" r="3.05"/><circle cx="393.1" cy="500.9" r="3.05"/><circle cx="399.0" cy="500.9" r="3.05"/><circle cx="404.4" cy="500.9" r="3.05"/><circle cx="424.0" cy="500.9" r="3.05"/><circle cx="434.8" cy="500.9" r="3.05"/><circle cx="444.9" cy="500.9" r="3.05"/><circle cx="454.6" cy="500.9" r="3.05"/><circle cx="462.9" cy="500.9" r="3.05"/><circle cx="468.5" cy="500.9" r="3.05"/><circle cx="473.6" cy="500.9" r="3.05"/><circle cx="480.0" cy="500.9" r="3.05"/><circle cx="487.8" cy="500.9" r="3.05"/><circle cx="493.1" cy="500.9" r="3.05"/><circle cx="508.0" cy="500.9" r="3.05"/><circle cx="513.3" cy="500.9" r="3.05"/><circle cx="519.6" cy="500.9" r="3.05"/><circle cx="524.9" cy="500.9" r="3.05"/><circle cx="531.2" cy="500.9" r="3.05"/><circle cx="555.4" cy="500.9" r="3.05"/><circle cx="568.7" cy="500.9" r="3.05"/><circle cx="603.4" cy="500.9" r="3.05"/><circle cx="617.5" cy="500.9" r="3.05"/><circle cx="636.0" cy="500.9" r="3.05"/><circle cx="644.9" cy="500.9" r="3.05"/><circle cx="650.9" cy="500.9" r="3.05"/><circle cx="670.8" cy="500.9" r="3.05"/><circle cx="687.0" cy="500.9" r="3.05"/><circle cx="731.0" cy="500.9" r="3.05"/><circle cx="757.7" cy="500.9" r="3.05"/><circle cx="806.7" cy="500.9" r="3.05"/><circle cx="812.4" cy="500.9" r="3.05"/><circle cx="819.5" cy="500.9" r="3.05"/><circle cx="824.5" cy="500.9" r="3.05"/><circle cx="834.9" cy="500.9" r="3.05"/><circle cx="866.1" cy="500.9" r="3.05"/><circle cx="871.0" cy="500.9" r="3.05"/><circle cx="582.6" cy="504.3" r="3.05"/><circle cx="590.5" cy="504.3" r="3.05"/><circle cx="596.6" cy="504.3" r="3.05"/><circle cx="704.3" cy="504.3" r="3.05"/><circle cx="859.6" cy="504.3" r="3.05"/><circle cx="285.3" cy="507.7" r="3.05"/><circle cx="298.4" cy="507.7" r="3.05"/><circle cx="304.9" cy="507.7" r="3.05"/><circle cx="310.0" cy="507.7" r="3.05"/><circle cx="316.4" cy="507.7" r="3.05"/><circle cx="332.6" cy="507.7" r="3.05"/><circle cx="339.6" cy="507.7" r="3.05"/><circle cx="348.6" cy="507.7" r="3.05"/><circle cx="354.6" cy="507.7" r="3.05"/><circle cx="359.8" cy="507.7" r="3.05"/><circle cx="375.5" cy="507.7" r="3.05"/><circle cx="385.6" cy="507.7" r="3.05"/><circle cx="396.5" cy="507.7" r="3.05"/><circle cx="407.3" cy="507.7" r="3.05"/><circle cx="414.8" cy="507.7" r="3.05"/><circle cx="420.1" cy="507.7" r="3.05"/><circle cx="426.0" cy="507.7" r="3.05"/><circle cx="455.0" cy="507.7" r="3.05"/><circle cx="460.8" cy="507.7" r="3.05"/><circle cx="468.7" cy="507.7" r="3.05"/><circle cx="475.5" cy="507.7" r="3.05"/><circle cx="482.1" cy="507.7" r="3.05"/><circle cx="487.3" cy="507.7" r="3.05"/><circle cx="499.3" cy="507.7" r="3.05"/><circle cx="507.5" cy="507.7" r="3.05"/><circle cx="518.5" cy="507.7" r="3.05"/><circle cx="526.5" cy="507.7" r="3.05"/><circle cx="536.1" cy="507.7" r="3.05"/><circle cx="541.6" cy="507.7" r="3.05"/><circle cx="547.8" cy="507.7" r="3.05"/><circle cx="553.8" cy="507.7" r="3.05"/><circle cx="570.8" cy="507.7" r="3.05"/><circle cx="606.0" cy="507.7" r="3.05"/><circle cx="616.1" cy="507.7" r="3.05"/><circle cx="623.8" cy="507.7" r="3.05"/><circle cx="631.5" cy="507.7" r="3.05"/><circle cx="642.5" cy="507.7" r="3.05"/><circle cx="650.1" cy="507.7" r="3.05"/><circle cx="667.8" cy="507.7" r="3.05"/><circle cx="675.8" cy="507.7" r="3.05"/><circle cx="683.5" cy="507.7" r="3.05"/><circle cx="689.5" cy="507.7" r="3.05"/><circle cx="715.5" cy="507.7" r="3.05"/><circle cx="725.6" cy="507.7" r="3.05"/><circle cx="734.8" cy="507.7" r="3.05"/><circle cx="740.1" cy="507.7" r="3.05"/><circle cx="753.4" cy="507.7" r="3.05"/><circle cx="770.1" cy="507.7" r="3.05"/><circle cx="775.4" cy="507.7" r="3.05"/><circle cx="782.3" cy="507.7" r="3.05"/><circle cx="807.0" cy="507.7" r="3.05"/><circle cx="812.8" cy="507.7" r="3.05"/><circle cx="820.9" cy="507.7" r="3.05"/><circle cx="829.5" cy="507.7" r="3.05"/><circle cx="838.9" cy="507.7" r="3.05"/><circle cx="846.0" cy="507.7" r="3.05"/><circle cx="866.1" cy="507.7" r="3.05"/><circle cx="583.7" cy="511.1" r="3.05"/><circle cx="589.7" cy="511.1" r="3.05"/><circle cx="596.5" cy="511.1" r="3.05"/><circle cx="702.4" cy="511.1" r="3.05"/><circle cx="861.0" cy="511.1" r="3.05"/><circle cx="301.4" cy="514.5" r="3.05"/><circle cx="308.5" cy="514.5" r="3.05"/><circle cx="317.9" cy="514.5" r="3.05"/><circle cx="340.4" cy="514.5" r="3.05"/><circle cx="350.8" cy="514.5" r="3.05"/><circle cx="364.8" cy="514.5" r="3.05"/><circle cx="370.0" cy="514.5" r="3.05"/><circle cx="375.5" cy="514.5" r="3.05"/><circle cx="382.0" cy="514.5" r="3.05"/><circle cx="389.3" cy="514.5" r="3.05"/><circle cx="396.2" cy="514.5" r="3.05"/><circle cx="407.9" cy="514.5" r="3.05"/><circle cx="428.3" cy="514.5" r="3.05"/><circle cx="434.6" cy="514.5" r="3.05"/><circle cx="444.7" cy="514.5" r="3.05"/><circle cx="452.0" cy="514.5" r="3.05"/><circle cx="465.5" cy="514.5" r="3.05"/><circle cx="471.7" cy="514.5" r="3.05"/><circle cx="482.2" cy="514.5" r="3.05"/><circle cx="490.8" cy="514.5" r="3.05"/><circle cx="500.0" cy="514.5" r="3.05"/><circle cx="508.0" cy="514.5" r="3.05"/><circle cx="513.1" cy="514.5" r="3.05"/><circle cx="521.7" cy="514.5" r="3.05"/><circle cx="527.1" cy="514.5" r="3.05"/><circle cx="532.2" cy="514.5" r="3.05"/><circle cx="537.5" cy="514.5" r="3.05"/><circle cx="545.3" cy="514.5" r="3.05"/><circle cx="557.1" cy="514.5" r="3.05"/><circle cx="564.6" cy="514.5" r="3.05"/><circle cx="570.8" cy="514.5" r="3.05"/><circle cx="608.8" cy="514.5" r="3.05"/><circle cx="625.2" cy="514.5" r="3.05"/><circle cx="631.8" cy="514.5" r="3.05"/><circle cx="644.4" cy="514.5" r="3.05"/><circle cx="650.5" cy="514.5" r="3.05"/><circle cx="666.9" cy="514.5" r="3.05"/><circle cx="674.4" cy="514.5" r="3.05"/><circle cx="682.1" cy="514.5" r="3.05"/><circle cx="719.3" cy="514.5" r="3.05"/><circle cx="730.1" cy="514.5" r="3.05"/><circle cx="736.9" cy="514.5" r="3.05"/><circle cx="778.1" cy="514.5" r="3.05"/><circle cx="785.0" cy="514.5" r="3.05"/><circle cx="804.4" cy="514.5" r="3.05"/><circle cx="811.0" cy="514.5" r="3.05"/><circle cx="816.1" cy="514.5" r="3.05"/><circle cx="821.3" cy="514.5" r="3.05"/><circle cx="830.3" cy="514.5" r="3.05"/><circle cx="835.7" cy="514.5" r="3.05"/><circle cx="840.9" cy="514.5" r="3.05"/><circle cx="866.9" cy="514.5" r="3.05"/><circle cx="584.6" cy="517.9" r="3.05"/><circle cx="859.0" cy="517.9" r="3.05"/><circle cx="312.7" cy="521.3" r="3.05"/><circle cx="343.7" cy="521.3" r="3.05"/><circle cx="365.8" cy="521.3" r="3.05"/><circle cx="371.3" cy="521.3" r="3.05"/><circle cx="403.7" cy="521.3" r="3.05"/><circle cx="421.1" cy="521.3" r="3.05"/><circle cx="426.8" cy="521.3" r="3.05"/><circle cx="434.1" cy="521.3" r="3.05"/><circle cx="444.9" cy="521.3" r="3.05"/><circle cx="454.0" cy="521.3" r="3.05"/><circle cx="460.5" cy="521.3" r="3.05"/><circle cx="467.4" cy="521.3" r="3.05"/><circle cx="472.5" cy="521.3" r="3.05"/><circle cx="482.1" cy="521.3" r="3.05"/><circle cx="488.1" cy="521.3" r="3.05"/><circle cx="504.5" cy="521.3" r="3.05"/><circle cx="509.8" cy="521.3" r="3.05"/><circle cx="519.6" cy="521.3" r="3.05"/><circle cx="524.9" cy="521.3" r="3.05"/><circle cx="529.7" cy="521.3" r="3.05"/><circle cx="533.9" cy="521.3" r="3.05"/><circle cx="540.9" cy="521.3" r="3.05"/><circle cx="545.9" cy="521.3" r="3.05"/><circle cx="562.9" cy="521.3" r="3.05"/><circle cx="619.3" cy="521.3" r="3.05"/><circle cx="652.3" cy="521.3" r="3.05"/><circle cx="671.5" cy="521.3" r="3.05"/><circle cx="680.0" cy="521.3" r="3.05"/><circle cx="738.0" cy="521.3" r="3.05"/><circle cx="816.3" cy="521.3" r="3.05"/><circle cx="825.7" cy="521.3" r="3.05"/><circle cx="830.9" cy="521.3" r="3.05"/><circle cx="835.7" cy="521.3" r="3.05"/><circle cx="841.7" cy="521.3" r="3.05"/><circle cx="581.3" cy="524.7" r="3.05"/><circle cx="375.2" cy="528.1" r="3.05"/><circle cx="401.0" cy="528.1" r="3.05"/><circle cx="438.3" cy="528.1" r="3.05"/><circle cx="456.7" cy="528.1" r="3.05"/><circle cx="465.0" cy="528.1" r="3.05"/><circle cx="472.9" cy="528.1" r="3.05"/><circle cx="478.3" cy="528.1" r="3.05"/><circle cx="485.2" cy="528.1" r="3.05"/><circle cx="490.6" cy="528.1" r="3.05"/><circle cx="496.8" cy="528.1" r="3.05"/><circle cx="507.3" cy="528.1" r="3.05"/><circle cx="512.5" cy="528.1" r="3.05"/><circle cx="517.4" cy="528.1" r="3.05"/><circle cx="522.6" cy="528.1" r="3.05"/><circle cx="535.6" cy="528.1" r="3.05"/><circle cx="557.5" cy="528.1" r="3.05"/><circle cx="737.7" cy="528.1" r="3.05"/><circle cx="812.4" cy="528.1" r="3.05"/><circle cx="817.4" cy="528.1" r="3.05"/><circle cx="825.7" cy="528.1" r="3.05"/><circle cx="831.1" cy="528.1" r="3.05"/><circle cx="370.6" cy="534.9" r="3.05"/><circle cx="404.3" cy="534.9" r="3.05"/><circle cx="473.1" cy="534.9" r="3.05"/><circle cx="486.0" cy="534.9" r="3.05"/><circle cx="492.1" cy="534.9" r="3.05"/><circle cx="514.6" cy="534.9" r="3.05"/><circle cx="521.0" cy="534.9" r="3.05"/><circle cx="531.2" cy="534.9" r="3.05"/><circle cx="536.7" cy="534.9" r="3.05"/><circle cx="545.3" cy="534.9" r="3.05"/><circle cx="818.5" cy="534.9" r="3.05"/><circle cx="823.3" cy="534.9" r="3.05"/><circle cx="486.5" cy="541.7" r="3.05"/><circle cx="492.7" cy="541.7" r="3.05"/><circle cx="523.5" cy="541.7" r="3.05"/><circle cx="530.6" cy="541.7" r="3.05"/><circle cx="812.8" cy="541.7" r="3.05"/><circle cx="819.3" cy="541.7" r="3.05"/><circle cx="522.8" cy="548.5" r="3.05"/><circle cx="818.5" cy="548.5" r="3.05"/><circle cx="524.1" cy="555.3" r="3.05"/></g>
<g style="filter:grayscale(1);will-change:transform">
<text x="194.87" y="41.0" font-size="55.87">Single mutant fitness distribution</text>
<text x="192.47" y="218.8" font-size="38.20" text-anchor="end">ampicillin</text>
<text x="191.69" y="368.7" font-size="38.03" text-anchor="end">cefotaxime</text>
<text x="191.69" y="518.7" font-size="37.98" text-anchor="end">ceftazidime</text>
<text x="220.10" y="669.3" font-size="37.50" text-anchor="middle">-6</text>
<text x="408.40" y="669.3" font-size="37.50" text-anchor="middle">-4</text>
<text x="596.60" y="669.3" font-size="37.50" text-anchor="middle">-2</text>
<text x="784.75" y="669.3" font-size="37.50" text-anchor="middle">0</text>
<text x="973.00" y="669.3" font-size="37.50" text-anchor="middle">2</text>
<text x="389.39" y="734.0" font-size="41.60" xml:space="preserve">Fitness relative to  WT</text>
</g>
</svg></body></html>
